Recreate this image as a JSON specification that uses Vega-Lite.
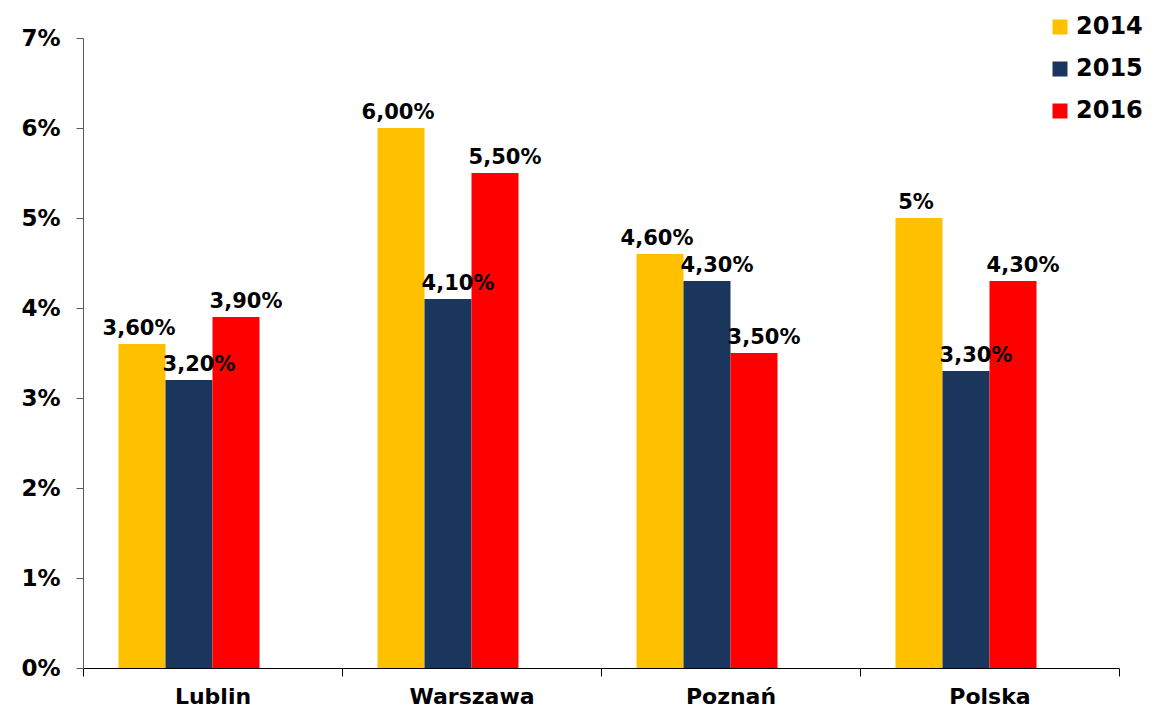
{
  "$schema": "https://vega.github.io/schema/vega-lite/v6.json",
  "width": 1036,
  "height": 630,
  "autosize": "none",
  "padding": {"left": 83, "top": 38, "right": 35, "bottom": 45},
  "background": "white",
  "config": {
    "view": {"stroke": null},
    "font": "DejaVu Sans",
    "axis": {"grid": false, "domainColor": "#7f7f7f", "tickColor": "#7f7f7f", "labelFont": "DejaVu Sans", "labelFontWeight": "bold", "labelColor": "black", "title": null}
  },
  "data": {
    "values": [
      {"region": "Lublin", "year": "2014", "value": 0.036, "label": "3,60%"},
      {"region": "Lublin", "year": "2015", "value": 0.032, "label": "3,20%"},
      {"region": "Lublin", "year": "2016", "value": 0.039, "label": "3,90%"},
      {"region": "Warszawa", "year": "2014", "value": 0.060, "label": "6,00%"},
      {"region": "Warszawa", "year": "2015", "value": 0.041, "label": "4,10%"},
      {"region": "Warszawa", "year": "2016", "value": 0.055, "label": "5,50%"},
      {"region": "Poznań", "year": "2014", "value": 0.046, "label": "4,60%"},
      {"region": "Poznań", "year": "2015", "value": 0.043, "label": "4,30%"},
      {"region": "Poznań", "year": "2016", "value": 0.035, "label": "3,50%"},
      {"region": "Polska", "year": "2014", "value": 0.050, "label": "5%"},
      {"region": "Polska", "year": "2015", "value": 0.033, "label": "3,30%"},
      {"region": "Polska", "year": "2016", "value": 0.043, "label": "4,30%"}
    ]
  },
  "encoding": {
    "x": {
      "field": "region", "type": "nominal", "sort": ["Lublin", "Warszawa", "Poznań", "Polska"],
      "scale": {"paddingInner": 0, "paddingOuter": 0},
      "axis": {"labelAngle": 0, "labelFontSize": 22, "tickBand": "extent", "ticks": true, "tickSize": 8, "labelPadding": 10, "domainColor": "#000000", "tickColor": "#000000"}
    },
    "xOffset": {
      "field": "year", "type": "nominal",
      "scale": {"domain": ["2014", "2015", "2016", "pad"], "paddingInner": 0, "paddingOuter": 0.755}
    },
    "y": {
      "field": "value", "type": "quantitative",
      "scale": {"domain": [0, 0.07], "nice": false},
      "axis": {"format": ".0%", "values": [0, 0.01, 0.02, 0.03, 0.04, 0.05, 0.06, 0.07], "labelOverlap": false, "labelFontSize": 23, "ticks": true, "tickSize": 7, "tickColor": "#595959", "domainColor": "#595959", "labelPadding": 16}
    }
  },
  "layer": [
    {
      "mark": {"type": "bar"},
      "encoding": {
        "color": {
          "field": "year", "type": "nominal",
          "scale": {"domain": ["2014", "2015", "2016"], "range": ["#FFC000", "#1A365D", "#FF0000"]},
          "legend": {
            "orient": "none", "legendX": 965, "legendY": -23, "title": null,
            "symbolType": "square", "symbolSize": 225, "symbolStrokeWidth": 0, "symbolOpacity": 1,
            "labelFont": "DejaVu Sans", "labelFontWeight": "bold", "labelFontSize": 24, "labelColor": "black",
            "labelOffset": 4, "rowPadding": 18, "padding": 0
          }
        }
      }
    },
    {
      "transform": [{"filter": "datum.year == '2014'"}],
      "mark": {"type": "text", "fontSize": 21, "fontWeight": "bold", "font": "DejaVu Sans", "baseline": "alphabetic", "dy": -9, "dx": -3, "color": "black"},
      "encoding": {"text": {"field": "label"}}
    },
    {
      "transform": [{"filter": "datum.year == '2015'"}],
      "mark": {"type": "text", "fontSize": 21, "fontWeight": "bold", "font": "DejaVu Sans", "baseline": "alphabetic", "dy": -9, "dx": 10, "color": "black"},
      "encoding": {"text": {"field": "label"}}
    },
    {
      "transform": [{"filter": "datum.year == '2016'"}],
      "mark": {"type": "text", "fontSize": 21, "fontWeight": "bold", "font": "DejaVu Sans", "baseline": "alphabetic", "dy": -9, "dx": 10, "color": "black"},
      "encoding": {"text": {"field": "label"}}
    }
  ]
}
